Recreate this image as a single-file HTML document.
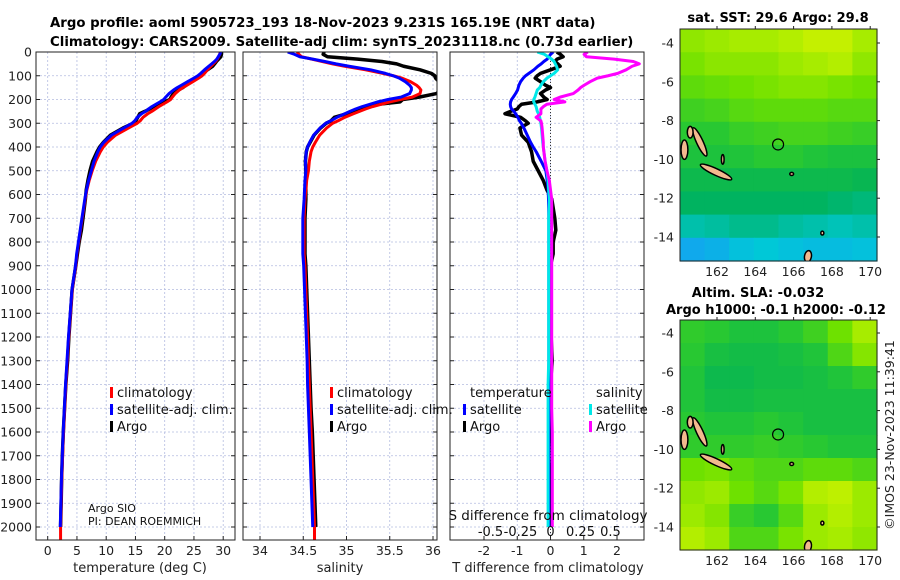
<!DOCTYPE html>
<html><head><meta charset="utf-8"><style>
body{margin:0;background:#fff;}
svg{display:block;font-family:"DejaVu Sans","Liberation Sans",sans-serif;}
</style></head><body>
<svg id="chart" width="900" height="580" viewBox="0 0 900 580" xmlns="http://www.w3.org/2000/svg">
<text x="50" y="27" font-size="13.3" font-weight="bold" fill="#000">Argo profile: aoml 5905723_193 18-Nov-2023 9.231S 165.19E (NRT data)</text>
<text x="50" y="46" font-size="13.3" font-weight="bold" fill="#000">Climatology: CARS2009. Satellite-adj clim: synTS_20231118.nc (0.73d earlier)</text>
<text x="778" y="22" font-size="13" font-weight="bold" text-anchor="middle">sat. SST: 29.6 Argo: 29.8</text>
<text x="758" y="297" font-size="13" font-weight="bold" text-anchor="middle">Altim. SLA: -0.032</text>
<text x="776" y="314" font-size="13" font-weight="bold" text-anchor="middle">Argo h1000: -0.1 h2000: -0.12</text>
<text transform="translate(894,435) rotate(-90)" font-size="12.5" text-anchor="middle" fill="#222">©IMOS 23-Nov-2023 11:39:41</text>
<g id="g"></g>
</svg>
<script>
// ---- profile data ----
const depths = [0,10,20,30,40,50,60,75,90,100,110,125,140,150,160,175,190,200,210,220,230,240,250,260,275,290,300,320,350,380,400,420,460,500,540,580,620,700,750,800,850,900,1000,1100,1200,1300,1400,1500,1600,1700,1800,1900,2000];
const tempClim = [29.5,29.4,29.2,29.0,28.7,28.3,27.9,27.3,26.8,26.4,25.8,24.8,23.8,23.1,22.5,21.8,21.3,21.0,20.4,19.7,19.0,18.4,17.8,17.1,16.3,15.8,15.3,13.8,11.6,10.2,9.5,9.0,8.2,7.6,7.1,6.7,6.4,5.9,5.6,5.3,5.0,4.8,4.2,3.9,3.6,3.35,3.1,2.9,2.7,2.55,2.4,2.3,2.2];
const tempDiffSat = [0.08,0.0,-0.05,-0.1,-0.2,-0.28,-0.38,-0.5,-0.65,-0.75,-0.82,-0.9,-0.95,-0.97,-0.99,-1.05,-1.12,-1.17,-1.2,-1.21,-1.2,-1.17,-1.1,-1.05,-0.98,-0.93,-0.88,-0.8,-0.7,-0.6,-0.52,-0.43,-0.28,-0.14,-0.1,-0.07,-0.06,-0.05,-0.05,-0.05,-0.05,-0.05,-0.05,-0.05,-0.05,-0.05,-0.05,-0.05,-0.05,-0.05,-0.05,-0.05,-0.05];
const tempDiffArgo = [0.19,0.3,0.38,0.2,0.13,0.22,0.29,0.0,-0.3,-0.4,-0.46,-0.3,-0.15,0.0,-0.15,-0.3,-0.2,-0.1,-0.4,-0.87,-0.95,-1.0,-1.2,-1.37,-0.9,-0.75,-0.67,-0.92,-0.87,-0.67,-0.62,-0.57,-0.52,-0.37,-0.22,-0.11,0.04,0.13,0.16,0.08,0.08,0.0,-0.02,0.0,0.02,0.05,0.0,-0.02,-0.03,-0.05,-0.02,0.0,0.0];
const salClim = [34.43,34.45,34.48,34.6,34.72,34.84,34.98,35.22,35.42,35.54,35.64,35.74,35.81,35.84,35.86,35.85,35.76,35.62,35.5,35.4,35.3,35.22,35.15,35.08,34.98,34.9,34.84,34.77,34.69,34.64,34.61,34.59,34.57,34.56,34.54,34.53,34.52,34.51,34.51,34.51,34.51,34.52,34.53,34.54,34.55,34.56,34.57,34.58,34.59,34.6,34.61,34.62,34.63];
const salDiffSat = [-0.11,-0.05,-0.02,0.01,0.03,0.04,0.05,0.06,0.03,0.0,-0.03,-0.06,-0.08,-0.09,-0.11,-0.12,-0.13,-0.14,-0.14,-0.13,-0.12,-0.115,-0.11,-0.1,-0.09,-0.085,-0.08,-0.075,-0.07,-0.065,-0.06,-0.055,-0.045,-0.03,-0.02,-0.015,-0.01,-0.015,-0.015,-0.015,-0.015,-0.015,-0.015,-0.015,-0.015,-0.015,-0.02,-0.02,-0.02,-0.02,-0.02,-0.02,-0.02];
const salDiffArgo = [0.31,0.28,0.3,0.53,0.69,0.74,0.68,0.63,0.56,0.48,0.39,0.33,0.28,0.25,0.23,0.19,0.08,0.03,0.12,-0.03,-0.06,-0.08,-0.08,-0.08,-0.12,-0.08,-0.075,-0.07,-0.065,-0.06,-0.06,-0.055,-0.045,-0.03,-0.01,0.0,0.01,0.01,0.01,0.01,0.01,0.01,0.01,0.01,0.01,0.01,0.01,0.01,0.015,0.015,0.015,0.015,0.015];
const depthTicks = [0,100,200,300,400,500,600,700,800,900,1000,1100,1200,1300,1400,1500,1600,1700,1800,1900,2000];
const tempTicks = [0,5,10,15,20,25,30];
const salTicks = [34,34.5,35,35.5,36];
const tDiffTicks = [-2,-1,0,1,2];
const sDiffTicks = [-0.5,-0.25,0,0.25,0.5];
// ---- map data (normalised colour values, rows north->south, cols west->east) ----
const mapLons = [162,164,166,168,170];
const mapLats = [-4,-6,-8,-10,-12,-14];
const sstGrid = [
[.84,.86,.88,.88,.9,.93,.93,.88],
[.8,.83,.83,.83,.86,.88,.9,.84],
[.74,.76,.78,.8,.82,.82,.8,.78],
[.66,.68,.72,.74,.74,.74,.72,.72],
[.6,.6,.64,.66,.68,.68,.66,.64],
[.56,.56,.57,.6,.6,.57,.55,.55],
[.5,.5,.5,.5,.5,.5,.5,.48],
[.44,.44,.44,.44,.44,.44,.42,.4],
[.32,.34,.37,.37,.34,.32,.3,.32],
[.12,.15,.22,.25,.22,.2,.2,.22]];
const slaGrid = [
[.62,.6,.56,.56,.6,.66,.78,.88],
[.6,.54,.52,.52,.54,.57,.7,.82],
[.57,.5,.5,.52,.52,.54,.57,.62],
[.57,.52,.52,.54,.54,.54,.54,.54],
[.6,.57,.57,.6,.57,.54,.54,.54],
[.62,.62,.62,.64,.62,.6,.57,.57],
[.78,.8,.74,.7,.7,.74,.74,.7],
[.84,.86,.78,.72,.8,.9,.92,.86],
[.86,.82,.64,.6,.72,.86,.9,.86],
[.9,.86,.7,.7,.8,.86,.88,.84]];
const argoLon = 165.19, argoLat = -9.231;
// islands: [lon, lat, rx(deg), ry(deg), rotation]
const islands = [[161.1,-9.1,0.17,0.8,-25],[161.95,-10.65,0.9,0.17,25],[160.3,-9.5,0.18,0.5,0],[160.6,-8.6,0.15,0.3,0],[166.75,-15.0,0.18,0.3,10],[165.9,-10.75,0.1,0.08,0],[167.5,-13.8,0.08,0.1,0],[162.3,-10.0,0.07,0.25,0]];

const NS='http://www.w3.org/2000/svg';
const g=document.getElementById('g');
function mk(tag,attrs,parent){const e=document.createElementNS(NS,tag);for(const k in attrs)e.setAttribute(k,attrs[k]);(parent||g).appendChild(e);return e;}

const Y0=52, YS=0.2375;
const yD = d => Y0 + d*YS;
const panels=[
 {x0:36,x1:235,name:'temperature-panel',sx:v=>47.7+v*5.85,ticks:tempTicks,label:'temperature (deg C)',lx:140},
 {x0:243,x1:437,name:'salinity-panel',sx:v=>260+(v-34)*86.5,ticks:salTicks,label:'salinity',lx:340},
 {x0:450,x1:644,name:'difference-panel',sx:v=>550.5+v*33.25,ticks:tDiffTicks,label:'T difference from climatology',lx:548}
];
const PB=540;
const sxS = v=>550.5+v*120;

panels.forEach((p,pi)=>{
  const pg=mk('g',{});
  
  
  const cid='clip'+pi;
  const cp=mk('clipPath',{id:cid},pg);
  mk('rect',{x:p.x0,y:Y0,width:p.x1-p.x0,height:PB-Y0},cp);
  depthTicks.forEach(d=>{
    const l=mk('line',{x1:p.x0,x2:p.x1,y1:yD(d),y2:yD(d),stroke:'#b4bce0','stroke-width':0.8,'stroke-dasharray':'2,2'},pg);
    
    
    const t1=mk('line',{x1:p.x0,x2:p.x0+4,y1:yD(d),y2:yD(d),stroke:'#222'},pg);
    
    
    const t2=mk('line',{x1:p.x1-4,x2:p.x1,y1:yD(d),y2:yD(d),stroke:'#222'},pg);
    
    
  });
  p.ticks.forEach(v=>{
    const x=p.sx(v);
    const l=mk('line',{x1:x,x2:x,y1:Y0,y2:PB,stroke:'#b4bce0','stroke-width':0.8,'stroke-dasharray':'2,2'},pg);
    
    
    const tk=mk('line',{x1:x,x2:x,y1:PB-4,y2:PB,stroke:'#222'},pg);
    
    
    const tt=mk('text',{x:x,y:555,'font-size':12.5,'text-anchor':'middle',fill:'#222'},pg);
    
    
    tt.textContent=String(v);
  });
  const xl=mk('text',{x:p.lx,y:572,'font-size':13,'text-anchor':'middle',fill:'#222'},pg);
  
  
  xl.textContent=p.label;
  p.g=pg;p.clip='url(#'+cid+')';
});
depthTicks.forEach(d=>{
  const t=mk('text',{x:32,y:yD(d)+4.5,'font-size':12.5,'text-anchor':'end',fill:'#222'});
  
  
  t.textContent=String(d);
});

function series(p,xs,color,w,name){
  const pts=depths.map((d,i)=>xs[i].toFixed(2)+','+yD(d).toFixed(2)).join(' ');
  const pl=mk('polyline',{points:pts,fill:'none',stroke:color,'stroke-width':w,'stroke-linejoin':'round','clip-path':p.clip},p.g);
  
  
}
const P1=panels[0],P2=panels[1],P3=panels[2];
const tSat=tempClim.map((v,i)=>v+tempDiffSat[i]);
const tArgo=tempClim.map((v,i)=>v+tempDiffArgo[i]);
const sSat=salClim.map((v,i)=>v+salDiffSat[i]);
const sArgo=salClim.map((v,i)=>v+salDiffArgo[i]);
series(P1,tArgo.map(P1.sx),'#000',3.5,'temperature-argo-line');
series(P1,tempClim.map(P1.sx),'#ff0000',3,'temperature-climatology-line');
series(P1,tSat.map(P1.sx),'#0000ff',3,'temperature-satellite-line');
series(P2,sArgo.map(P2.sx),'#000',3.5,'salinity-argo-line');
series(P2,salClim.map(P2.sx),'#ff0000',3,'salinity-climatology-line');
series(P2,sSat.map(P2.sx),'#0000ff',3,'salinity-satellite-line');
const zl=mk('line',{x1:550.5,x2:550.5,y1:Y0,y2:PB,stroke:'#333','stroke-width':1,'stroke-dasharray':'1,2'},P3.g);


series(P3,tempDiffArgo.map(P3.sx),'#000',3.5,'tdiff-argo-line');
series(P3,tempDiffSat.map(P3.sx),'#0000ff',3,'tdiff-satellite-line');
series(P3,salDiffSat.map(sxS),'#00e8e8',3,'sdiff-satellite-line');
series(P3,salDiffArgo.map(sxS),'#ff00ff',3,'sdiff-argo-line');
[[P1,P1.sx(tempClim[tempClim.length-1])],[P2,P2.sx(salClim[salClim.length-1])]].forEach(([p,x])=>{
  const l=mk('line',{x1:x,x2:x,y1:yD(2000),y2:PB,stroke:'#ff0000','stroke-width':3},p.g);
  
  
});
panels.forEach(p=>{
  const r=mk('rect',{x:p.x0,y:Y0,width:p.x1-p.x0,height:PB-Y0,fill:'none',stroke:'#222','stroke-width':1},p.g);
  
  
});
const st=mk('text',{x:548,y:520,'font-size':13.5,'text-anchor':'middle',fill:'#111'},P3.g);


st.textContent='S difference from climatology';
sDiffTicks.forEach(v=>{
  const t=mk('text',{x:sxS(v),y:536,'font-size':13,'text-anchor':'middle',fill:'#111'},P3.g);
  
  
  t.textContent=String(v);
});
function legItem(x,y,color,label,p){
  const b=mk('rect',{x:x,y:y-10,width:3,height:11,fill:color},p.g);
  
  
  const t=mk('text',{x:x+7,y:y,'font-size':13,fill:'#111'},p.g);
  
  
  t.textContent=label;
}
[[P1,110],[P2,330]].forEach(([p,x])=>{
  legItem(x,397,'#ff0000','climatology',p);
  legItem(x,414,'#0000ff','satellite-adj. clim.',p);
  legItem(x,431,'#000','Argo',p);
});
const lt1=mk('text',{x:470,y:397,'font-size':13,fill:'#111'},P3.g);


lt1.textContent='temperature';
const lt2=mk('text',{x:596,y:397,'font-size':13,fill:'#111'},P3.g);


lt2.textContent='salinity';
legItem(463,414,'#0000ff','satellite',P3);
legItem(463,431,'#000','Argo',P3);
legItem(589,414,'#00e8e8','satellite',P3);
legItem(589,431,'#ff00ff','Argo',P3);
const a1=mk('text',{x:88,y:512,'font-size':11,fill:'#111'},P1.g);


a1.textContent='Argo SIO';
const a2=mk('text',{x:88,y:525,'font-size':11,fill:'#111'},P1.g);


a2.textContent='PI: DEAN ROEMMICH';

// ---- maps ----
const stops=[[0,[30,140,255]],[0.25,[0,200,215]],[0.45,[0,178,90]],[0.6,[40,200,50]],[0.78,[110,225,0]],[0.92,[190,240,0]],[1,[235,240,0]]];
function cmap(v){for(let i=1;i<stops.length;i++){if(v<=stops[i][0]){const a=stops[i-1],b=stops[i],t=(v-a[0])/(b[0]-a[0]);return 'rgb('+a[1].map((c,k)=>Math.round(c+(b[1][k]-c)*t)).join(',')+')';}}return 'rgb(235,240,0)';}
function drawMap(name,x0,y0,x1,y1,latRef,grid){
  const mg=mk('g',{});
  
  
  const lx=lon=>717+(lon-162)*19.15;
  const ly=lat=>latRef+(-4-lat)*19.4;
  const rows=grid.length,cols=grid[0].length,cw=(x1-x0)/cols,ch=(y1-y0)/rows;
  grid.forEach((row,r)=>row.forEach((v,c)=>{
    const cell=mk('rect',{x:x0+c*cw,y:y0+r*ch,width:cw+0.6,height:ch+0.6,fill:cmap(v)},mg);
    
    
  }));
  const cid=name+'-clip';
  const cp=mk('clipPath',{id:cid},mg);
  mk('rect',{x:x0,y:y0,width:x1-x0,height:y1-y0},cp);
  islands.forEach(is=>{
    const e=mk('ellipse',{cx:lx(is[0]),cy:ly(is[1]),rx:is[2]*19.15,ry:is[3]*19.4,transform:'rotate('+is[4]+' '+lx(is[0])+' '+ly(is[1])+')',fill:'#f2b98e',stroke:'#000','stroke-width':1.5,'clip-path':'url(#'+cid+')'},mg);
    
    
  });
  const c=mk('circle',{cx:lx(argoLon),cy:ly(argoLat),r:5.5,fill:'none',stroke:'#000','stroke-width':1.2},mg);
  
  
  const fr=mk('rect',{x:x0,y:y0,width:x1-x0,height:y1-y0,fill:'none',stroke:'#222','stroke-width':1},mg);
  
  
  mapLons.forEach(lon=>{
    const t=mk('text',{x:lx(lon),y:y1+15,'font-size':12.5,'text-anchor':'middle',fill:'#222'},mg);
    
    
    t.textContent=String(lon);
    const tk=mk('line',{x1:lx(lon),x2:lx(lon),y1:y0,y2:y0-3,stroke:'#222'},mg);
    
    
  });
  mapLats.forEach(lat=>{
    const y=ly(lat);
    const t=mk('text',{x:x0-6,y:y+4.5,'font-size':12.5,'text-anchor':'end',fill:'#222'},mg);
    
    
    t.textContent=String(lat);
    const tk=mk('line',{x1:x1,x2:x1+3,y1:y,y2:y,stroke:'#222'},mg);
    
    
  });
}
drawMap('sst-map',680,29,877,261,43,sstGrid);
drawMap('sla-map',680,320,877,550,333,slaGrid);
</script>
</body></html>
